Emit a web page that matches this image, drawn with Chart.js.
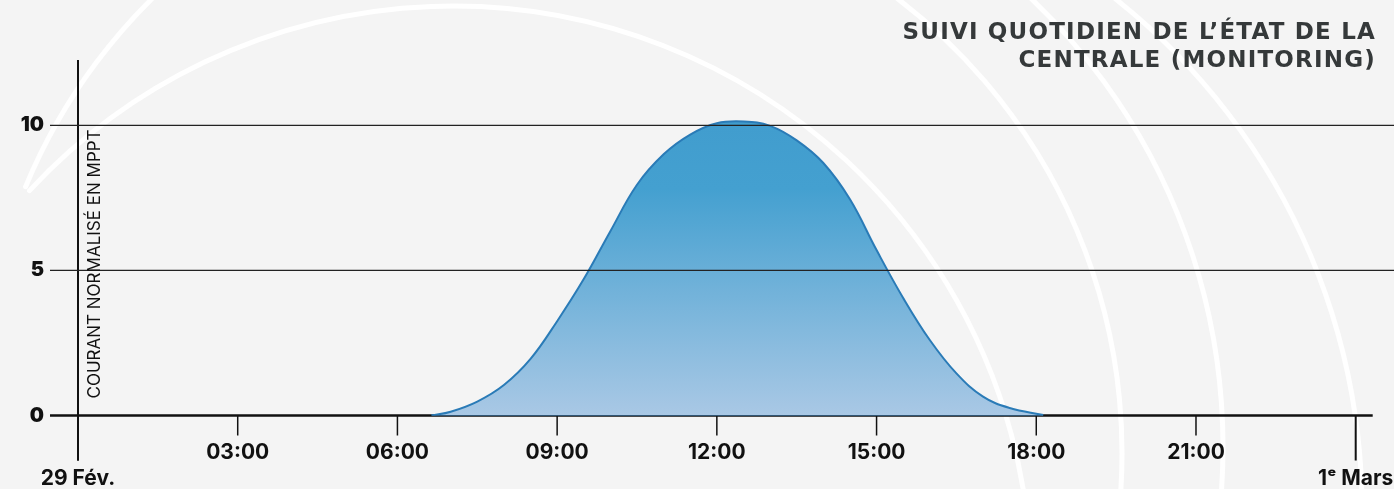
<!DOCTYPE html>
<html lang="fr">
<head>
<meta charset="utf-8">
<title>Suivi quotidien de l'état de la centrale</title>
<script src="https://cdn.jsdelivr.net/npm/chart.js@4.4.1/dist/chart.umd.min.js"></script>
<style>
    html, body { margin: 0; padding: 0; background: #f4f4f4; }
    #wrap { width: 1394px; height: 489px; }
</style>
</head>
<body>
<div id="wrap"><canvas id="monitoringChart" width="1394" height="489"></canvas></div>
<script>
// Heures depuis le 29 Fév. 00:00 et courant normalisé
const hours   = [6.64, 7.0, 7.5, 8.0, 8.5, 9.0, 9.5, 10.0, 10.5, 11.0, 11.5, 12.0, 12.5, 13.0, 13.5, 14.0, 14.5, 15.0, 15.5, 16.0, 16.5, 17.0, 17.5, 18.13];
const current = [0, 0.13, 0.48, 1.05, 1.95, 3.25, 4.7, 6.35, 7.95, 9.0, 9.68, 10.07, 10.13, 9.98, 9.48, 8.7, 7.45, 5.7, 4.05, 2.6, 1.45, 0.65, 0.26, 0.02];

const xTickValues = [0, 3, 6, 9, 12, 15, 18, 21, 24];
const xTickLabels = [['', '29 Fév.'], '03:00', '06:00', '09:00', '12:00', '15:00', '18:00', '21:00', ['', '1ᵉ Mars']];
const yTickValues = [0, 5, 10];

const titleLines = ['SUIVI QUOTIDIEN DE L’ÉTAT DE LA', 'CENTRALE (MONITORING)'];
const yTitle = 'COURANT NORMALISÉ EN MPPT';

const BLUE_LINE = '#2a7bb7';

// fond gris + arcs blancs décoratifs
const backdrop = {
    id: 'backdrop',
    beforeDraw(chart) {
        const c = chart.ctx;
        c.save();
        c.fillStyle = '#f4f4f4';
        c.fillRect(0, 0, chart.width, chart.height);
        c.strokeStyle = '#ffffff';
        c.lineWidth = 5;
        c.lineCap = 'round';
        const arcs = [
            [555, 406, 573, -2.749, -2.25],
            [453, 584, 578, -2.393, 0.3],
            [550, 453, 572, -1.0, 0.2],
            [603, 447, 620, -0.9, 0.2],
            [711, 509, 651, -0.9, 0.1]
        ];
        arcs.forEach(a => {
            c.beginPath();
            c.arc(a[0], a[1], a[2], a[3], a[4]);
            c.stroke();
        });
        c.restore();
    }
};

// axes dessinés à partir des échelles
const axesLines = {
    id: 'axesLines',
    beforeDatasetsDraw(chart) {
        const c = chart.ctx, x = chart.scales.x, y = chart.scales.y, area = chart.chartArea;
        c.save();
        c.strokeStyle = '#111';
        // ligne du zéro
        c.lineWidth = 2.5;
        c.beginPath();
        c.moveTo(area.left - 28, y.getPixelForValue(0));
        c.lineTo(area.right + 17, y.getPixelForValue(0));
        c.stroke();
        // axe vertical
        c.lineWidth = 2;
        c.beginPath();
        c.moveTo(x.getPixelForValue(0), area.top);
        c.lineTo(x.getPixelForValue(0), area.bottom + 45);
        c.stroke();
        // graduations horaires
        xTickValues.forEach((v, i) => {
            const px = x.getPixelForValue(v);
            const last = i === 0 || i === xTickValues.length - 1;
            c.lineWidth = last ? 2 : 1.5;
            c.beginPath();
            c.moveTo(px, area.bottom);
            c.lineTo(px, area.bottom + (last ? 45 : 20));
            c.stroke();
        });
        c.restore();
    },
    afterDatasetsDraw(chart) {
        const c = chart.ctx, y = chart.scales.y, area = chart.chartArea;
        c.save();
        c.strokeStyle = '#222';
        c.lineWidth = 1.2;
        yTickValues.filter(v => v > 0).forEach(v => {
            const py = y.getPixelForValue(v);
            c.beginPath();
            c.moveTo(area.left - 28, py);
            c.lineTo(chart.width, py);
            c.stroke();
        });
        c.restore();
    },
    afterDraw(chart) {
        const c = chart.ctx, area = chart.chartArea;
        c.save();
        c.fillStyle = '#35393a';
        c.font = 'bold 23px "DejaVu Sans"';
        c.letterSpacing = '1.2px';
        c.textAlign = 'right';
        c.textBaseline = 'alphabetic';
        c.fillText(titleLines[0], chart.width - 18, 39);
        c.fillText(titleLines[1], chart.width - 18, 67);

        c.letterSpacing = '0px';
        c.fillStyle = '#111';
        c.font = '400 17px Inter';
        c.translate(area.left + 17, area.bottom - 17);
        c.rotate(-Math.PI / 2);
        c.textAlign = 'left';
        c.textBaseline = 'middle';
        c.fillText(yTitle, 0, 0);
        c.restore();
    }
};

const ctx = document.getElementById('monitoringChart').getContext('2d');
new Chart(ctx, {
    type: 'line',
    data: {
        datasets: [{
            data: hours.map((h, i) => ({ x: h, y: current[i] })),
            borderColor: BLUE_LINE,
            borderWidth: 2,
            pointRadius: 0,
            tension: 0.4,
            fill: 'origin',
            backgroundColor: (context) => {
                const chart = context.chart;
                if (!chart.chartArea) return 'rgba(66,158,207,0.8)';
                const y = chart.scales.y;
                const g = chart.ctx.createLinearGradient(0, y.getPixelForValue(10), 0, y.getPixelForValue(0));
                g.addColorStop(0, '#419dce');
                g.addColorStop(0.22, '#44a0d0');
                g.addColorStop(1, '#a9c8e5');
                return g;
            }
        }, {
            // trait bleu le long de la base
            data: [{ x: hours[0], y: 0 }, { x: hours[hours.length - 1], y: 0 }],
            borderColor: BLUE_LINE,
            borderWidth: 2,
            pointRadius: 0,
            fill: false
        }]
    },
    options: {
        responsive: false,
        devicePixelRatio: 1,
        animation: false,
        layout: { padding: { top: 60, right: 38.3, left: 0, bottom: 0 } },
        plugins: {
            legend: { display: false },
            tooltip: { enabled: false }
        },
        scales: {
            x: {
                type: 'linear',
                min: 0,
                max: 24,
                afterBuildTicks: s => { s.ticks = xTickValues.map(v => ({ value: v })); },
                afterFit: s => { s.height = 73.5; s.paddingLeft = 0; s.paddingRight = 0; },
                grid: { display: false, drawTicks: false },
                border: { display: false },
                ticks: {
                    autoSkip: false,
                    maxRotation: 0,
                    padding: 24,
                    color: '#111',
                    font: { family: 'Inter', weight: '700', size: 21, lineHeight: 1.25 },
                    callback: (v, i) => xTickLabels[i]
                }
            },
            y: {
                min: 0,
                max: 12.25,
                afterBuildTicks: s => { s.ticks = yTickValues.map(v => ({ value: v })); },
                afterFit: s => { s.width = 78; s.paddingTop = 0; s.paddingBottom = 0; },
                grid: { display: false, drawTicks: false },
                border: { display: false },
                ticks: {
                    padding: 34,
                    color: '#111',
                    font: { family: 'Inter', weight: '900', size: 20 }
                }
            }
        }
    },
    plugins: [backdrop, axesLines]
});
</script>
</body>
</html>
